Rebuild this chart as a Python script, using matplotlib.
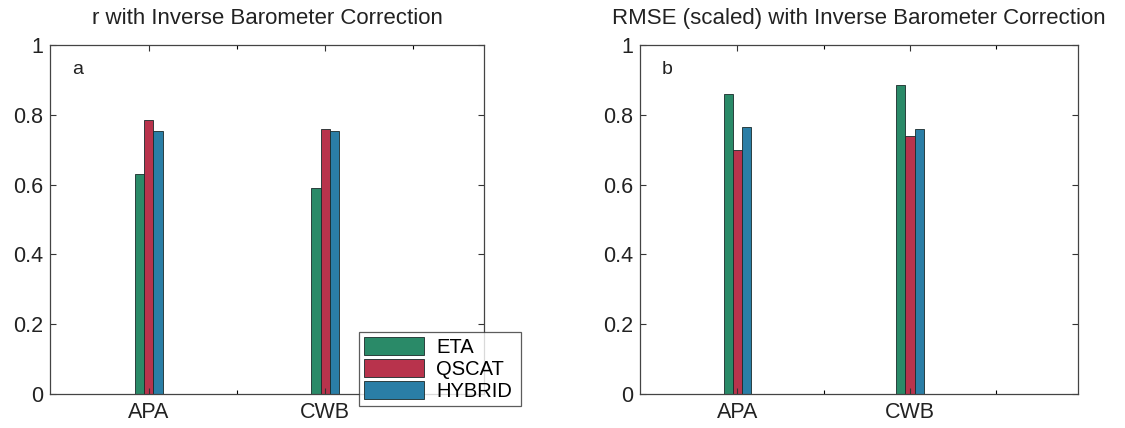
import numpy as np
import matplotlib
matplotlib.use("Agg")
import matplotlib.pyplot as plt

plt.rcParams['font.family'] = ['Liberation Sans', 'DejaVu Sans']

# data
sites = ["APA", "CWB"]
models = ["ETA", "QSCAT", "HYBRID"]
r_eta = [0.63, 0.59]
r_qscat = [0.785, 0.76]
r_hybrid = [0.755, 0.755]
rmse_eta = [0.86, 0.885]
rmse_qscat = [0.70, 0.74]
rmse_hybrid = [0.765, 0.76]

colors = ["#2a8a68", "#b8334c", "#2a7ea6"]
titles = ["r with Inverse Barometer Correction",
          "RMSE (scaled) with Inverse Barometer Correction"]
tags = ["a", "b"]

fig = plt.figure(figsize=(11.25, 4.28), dpi=100)
ax1 = fig.add_axes([0.0444, 0.0794, 0.3858, 0.8154])
ax2 = fig.add_axes([0.5689, 0.0794, 0.3893, 0.8154])

x = np.arange(1, len(sites) + 1)
w = 0.053
handles = []
for ax, data, title, tag, xl in [
        (ax1, [r_eta, r_qscat, r_hybrid], titles[0], tags[0], (0.44, 2.9)),
        (ax2, [rmse_eta, rmse_qscat, rmse_hybrid], titles[1], tags[1], (0.435, 2.974))]:
    for i, vals in enumerate(data):
        b = ax.bar(x + (i - 1) * w, vals, w, color=colors[i],
                   edgecolor="#1a2a2a", linewidth=0.6, label=models[i])
        if ax is ax1:
            handles.append(b)
    ax.set_xlim(*xl)
    ax.set_ylim(0, 1)
    ax.set_xticks(x)
    ax.set_xticklabels(sites)
    ax.set_xticks([1.5, 2.5], minor=True)
    ax.set_yticks([0, 0.2, 0.4, 0.6, 0.8, 1])
    ax.set_yticklabels(["0", "0.2", "0.4", "0.6", "0.8", "1"])
    ax.tick_params(direction="in", top=True, right=True, labelsize=15.5,
                   length=4, width=0.8, colors="#333333", labelcolor="#222222")
    ax.tick_params(which="minor", direction="in", top=True, length=3, width=0.8)
    ax.tick_params(axis="x", pad=6)
    ax.tick_params(axis="y", pad=5)
    for s in ax.spines.values():
        s.set_linewidth(0.9)
        s.set_color("#444444")
    ax.set_title(title, fontsize=16, color="#222222", pad=15)
    ax.text(0.05, 0.93, tag, transform=ax.transAxes, fontsize=14,
            va="center", ha="left", color="#222222")

leg = fig.legend(handles, models, loc="lower left",
                 bbox_to_anchor=(0.319, 0.051, 0.144, 0.197),
                 mode="expand", fontsize=14.5, frameon=True, fancybox=False,
                 handlelength=3.0, handleheight=1.0, borderpad=0.25,
                 labelspacing=0.1, handletextpad=0.6, borderaxespad=0)
leg.get_frame().set_edgecolor("#333333")
leg.get_frame().set_linewidth(0.9)

fig.savefig("out.png", dpi=100)
